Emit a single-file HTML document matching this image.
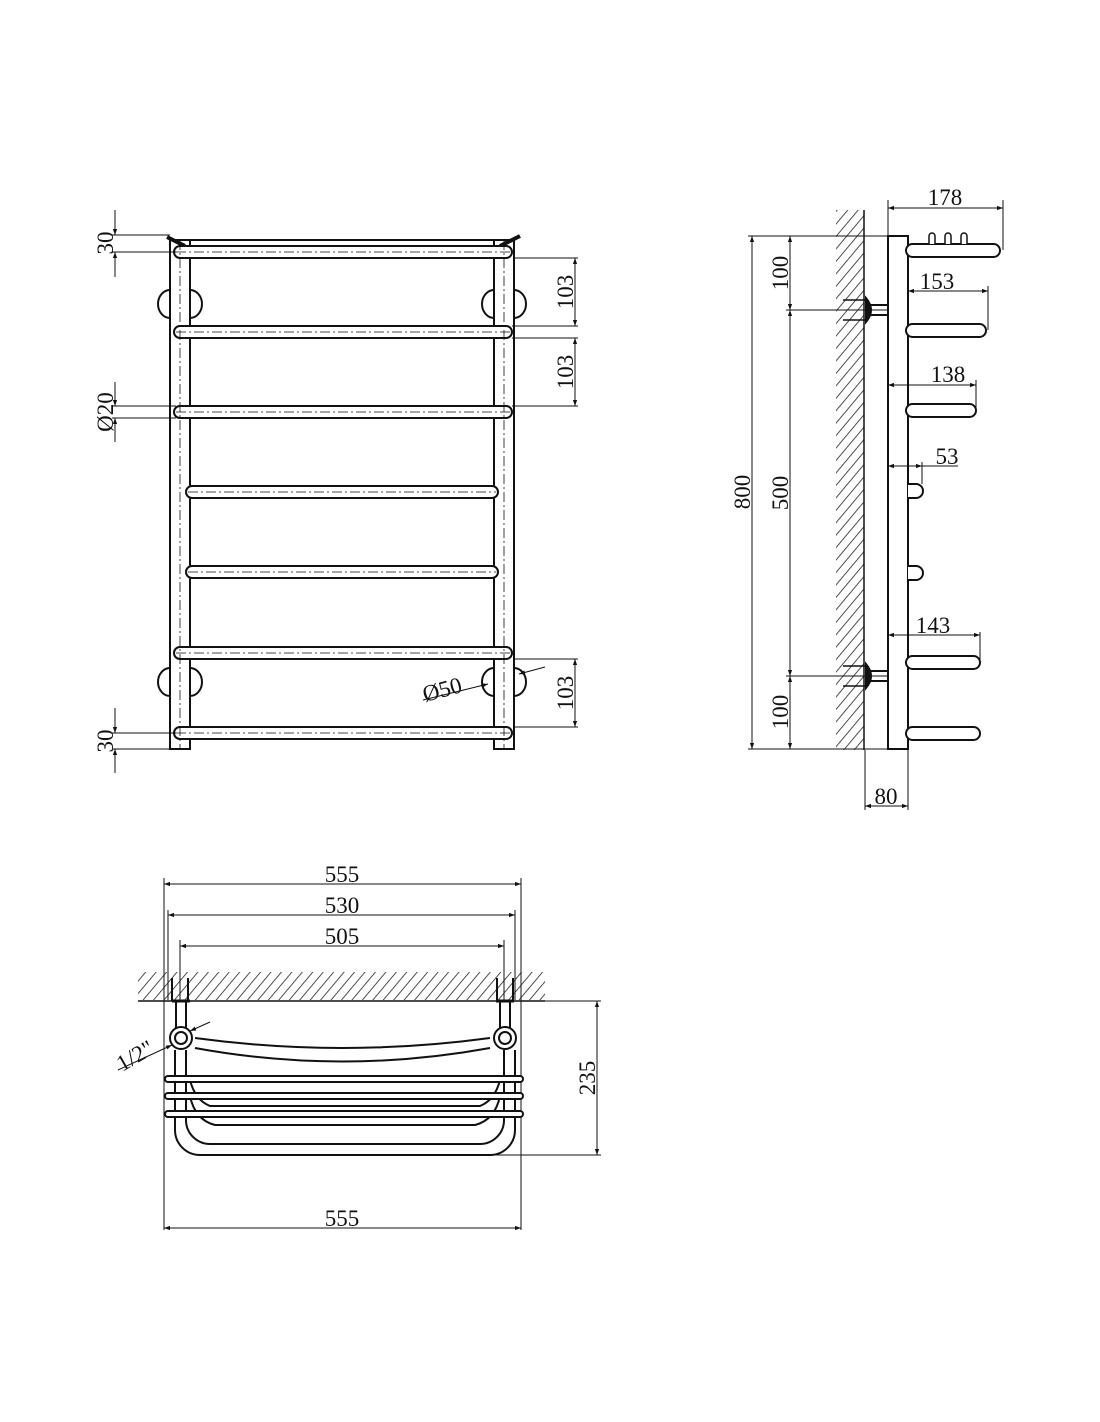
<!DOCTYPE html>
<html><head><meta charset="utf-8"><style>html,body{margin:0;padding:0;background:#fff}svg{display:block}text{font-family:"Liberation Serif",serif;font-size:23px;fill:#111}</style></head><body>
<svg width="1100" height="1422" viewBox="0 0 1100 1422" xmlns="http://www.w3.org/2000/svg">
<defs>
<pattern id="h" width="8" height="8" patternUnits="userSpaceOnUse" patternTransform="rotate(40)"><line x1="0" y1="0" x2="0" y2="8" stroke="#222" stroke-width="1.6"/></pattern>
<marker id="a" viewBox="0 0 10 10" refX="10" refY="5" markerWidth="11" markerHeight="6" orient="auto-start-reverse" markerUnits="userSpaceOnUse"><path d="M0,1.5L10,5L0,8.5z" fill="#111"/></marker>
</defs>
<g fill="none" stroke="#111" stroke-width="2">
<!-- FRONT VIEW -->
<rect x="170" y="240" width="20" height="509"/>
<rect x="494" y="240" width="20" height="509"/>
<line x1="170" y1="240" x2="514" y2="240"/>
<path d="M167,237 L185,246 M500,246 L520,236" stroke-width="4"/>
<g stroke-width="2">
<rect x="174" y="246" width="338" height="12" rx="6" fill="#fff"/>
<rect x="174" y="326" width="338" height="12" rx="6" fill="#fff"/>
<rect x="174" y="406" width="338" height="12" rx="6" fill="#fff"/>
<rect x="186" y="486" width="312" height="12" rx="6" fill="#fff"/>
<rect x="186" y="566" width="312" height="12" rx="6" fill="#fff"/>
<rect x="174" y="647" width="338" height="12" rx="6" fill="#fff"/>
<rect x="174" y="727" width="338" height="12" rx="6" fill="#fff"/>
</g>
<path d="M170,290 A12,14 0 0 0 170,318 M190,290 A12,14 0 0 1 190,318 M494,290 A12,14 0 0 0 494,318 M514,290 A12,14 0 0 1 514,318"/>
<path d="M170,668 A12,14 0 0 0 170,696 M190,668 A12,14 0 0 1 190,696 M494,668 A12,14 0 0 0 494,696 M514,668 A12,14 0 0 1 514,696"/>
<g stroke-width="0.8" stroke-dasharray="10,3,2,3">
<line x1="180" y1="240" x2="180" y2="749"/><line x1="504" y1="240" x2="504" y2="749"/>
<line x1="176" y1="252" x2="510" y2="252"/><line x1="176" y1="332" x2="510" y2="332"/><line x1="176" y1="412" x2="510" y2="412"/><line x1="188" y1="492" x2="496" y2="492"/><line x1="188" y1="572" x2="496" y2="572"/><line x1="176" y1="653" x2="510" y2="653"/><line x1="176" y1="733" x2="510" y2="733"/>
</g>
<g stroke-width="1">
<line x1="112" y1="235" x2="170" y2="235"/><line x1="112" y1="252" x2="176" y2="252"/>
<line x1="115" y1="210" x2="115" y2="235" marker-end="url(#a)"/><line x1="115" y1="277" x2="115" y2="252" marker-end="url(#a)"/>
<line x1="112" y1="406" x2="176" y2="406"/><line x1="112" y1="418" x2="176" y2="418"/>
<line x1="115" y1="382" x2="115" y2="406" marker-end="url(#a)"/><line x1="115" y1="442" x2="115" y2="418" marker-end="url(#a)"/>
<line x1="112" y1="733" x2="176" y2="733"/><line x1="112" y1="749" x2="170" y2="749"/>
<line x1="115" y1="708" x2="115" y2="733" marker-end="url(#a)"/><line x1="115" y1="773" x2="115" y2="749" marker-end="url(#a)"/>
<line x1="514" y1="258" x2="578" y2="258"/><line x1="512" y1="326" x2="578" y2="326"/><line x1="512" y1="338" x2="578" y2="338"/><line x1="512" y1="406" x2="578" y2="406"/>
<line x1="575" y1="258" x2="575" y2="326" marker-start="url(#a)" marker-end="url(#a)"/>
<line x1="575" y1="338" x2="575" y2="406" marker-start="url(#a)" marker-end="url(#a)"/>
<line x1="514" y1="659" x2="578" y2="659"/><line x1="514" y1="727" x2="578" y2="727"/>
<line x1="575" y1="659" x2="575" y2="727" marker-start="url(#a)" marker-end="url(#a)"/>
<line x1="423" y1="700" x2="488" y2="684" marker-end="url(#a)"/><line x1="545" y1="667" x2="519" y2="674" marker-end="url(#a)"/>
</g>
<!-- SIDE VIEW -->
<rect x="836" y="210" width="28" height="540" fill="url(#h)" stroke="none"/>
<line x1="864" y1="210" x2="864" y2="750" stroke-width="1.5"/>
<path d="M888,749 L888,236 L908,236 L908,749 Z"/>
<g fill="#fff">
<rect x="906" y="244" width="94" height="13" rx="6.5"/>
<rect x="906" y="324" width="80" height="13" rx="6.5"/>
<rect x="906" y="404" width="70" height="13" rx="6.5"/>
<rect x="906" y="656" width="74" height="13" rx="6.5"/>
<rect x="906" y="727" width="74" height="13" rx="6.5"/>
<path d="M908,484 L916,484 A6,6 0 0 1 916,498 L908,498"/>
<path d="M908,566 L916,566 A6,6 0 0 1 916,580 L908,580"/>
<path d="M929,244 L929,236 A3,3 0 0 1 935,236 L935,244 M945,244 L945,236 A3,3 0 0 1 951,236 L951,244 M961,244 L961,236 A3,3 0 0 1 967,236 L967,244" stroke-width="1.5"/>
</g>
<g stroke-width="2">
<path d="M866,298 Q876,310 866,322 Z M866,664 Q876,676 866,688 Z" fill="#111"/>
<rect x="868" y="305" width="20" height="10"/><rect x="868" y="671" width="20" height="10"/>
<path d="M843,300 L866,300 M843,320 L866,320 M843,666 L866,666 M843,686 L866,686" stroke-width="1.5"/>
</g>
<g stroke-width="1">
<line x1="888" y1="236" x2="888" y2="200"/><line x1="1003" y1="250" x2="1003" y2="200"/>
<line x1="888" y1="208" x2="1003" y2="208" marker-start="url(#a)" marker-end="url(#a)"/>
<line x1="988" y1="330" x2="988" y2="286"/><line x1="908" y1="291" x2="988" y2="291" marker-start="url(#a)" marker-end="url(#a)"/>
<line x1="976" y1="410" x2="976" y2="380"/><line x1="888" y1="385" x2="976" y2="385" marker-start="url(#a)" marker-end="url(#a)"/>
<line x1="922" y1="484" x2="922" y2="462"/><line x1="888" y1="466" x2="922" y2="466" marker-start="url(#a)" marker-end="url(#a)"/><line x1="922" y1="466" x2="958" y2="466"/>
<line x1="980" y1="662" x2="980" y2="632"/><line x1="888" y1="635" x2="980" y2="635" marker-start="url(#a)" marker-end="url(#a)"/>
<line x1="748" y1="236" x2="888" y2="236"/><line x1="748" y1="749" x2="888" y2="749"/>
<line x1="786" y1="310" x2="888" y2="310"/><line x1="786" y1="676" x2="888" y2="676"/>
<line x1="752" y1="236" x2="752" y2="749" marker-start="url(#a)" marker-end="url(#a)"/>
<line x1="790" y1="236" x2="790" y2="310" marker-start="url(#a)" marker-end="url(#a)"/>
<line x1="790" y1="310" x2="790" y2="676" marker-start="url(#a)" marker-end="url(#a)"/>
<line x1="790" y1="676" x2="790" y2="749" marker-start="url(#a)" marker-end="url(#a)"/>
<line x1="865" y1="750" x2="865" y2="810"/><line x1="908" y1="749" x2="908" y2="810"/>
<line x1="865" y1="806" x2="908" y2="806" marker-start="url(#a)" marker-end="url(#a)"/>
</g>
<!-- TOP VIEW -->
<rect x="138" y="972" width="407" height="28" fill="url(#h)" stroke="none"/>
<line x1="138" y1="1001" x2="545" y2="1001" stroke-width="1.5"/>
<g stroke-width="1">
<line x1="164" y1="878" x2="164" y2="1230"/><line x1="521" y1="878" x2="521" y2="1230"/>
<line x1="164" y1="884" x2="521" y2="884" marker-start="url(#a)" marker-end="url(#a)"/>
<line x1="168" y1="910" x2="168" y2="1000"/><line x1="515" y1="910" x2="515" y2="1000"/>
<line x1="168" y1="915" x2="515" y2="915" marker-start="url(#a)" marker-end="url(#a)"/>
<line x1="180" y1="940" x2="180" y2="1000"/><line x1="504" y1="940" x2="504" y2="1000"/>
<line x1="180" y1="946" x2="504" y2="946" marker-start="url(#a)" marker-end="url(#a)"/>
<line x1="164" y1="1228" x2="521" y2="1228" marker-start="url(#a)" marker-end="url(#a)"/>
<line x1="545" y1="1001" x2="601" y2="1001"/><line x1="490" y1="1155" x2="601" y2="1155"/>
<line x1="597" y1="1001" x2="597" y2="1155" marker-start="url(#a)" marker-end="url(#a)"/>
<line x1="118" y1="1070" x2="172" y2="1045" marker-end="url(#a)"/><line x1="210" y1="1022" x2="190" y2="1031" marker-end="url(#a)"/>
</g>
<path d="M176,1001 L176,1030 M186,1001 L186,1030 M500,1001 L500,1030 M510,1001 L510,1030 M172,978 L172,1001 M188,978 L188,1001 M497,978 L497,1001 M513,978 L513,1001"/>
<path d="M172,1001 L190,1001 M496,1001 L514,1001" stroke-width="3"/>
<path d="M195,1038 Q342,1058 490,1038 M195,1048 Q342,1075 490,1048"/>
<path d="M175,1050 L175,1130 A25,25 0 0 0 200,1155 L490,1155 A25,25 0 0 0 515,1130 L515,1050"/>
<path d="M186,1050 L186,1120 A24,24 0 0 0 210,1144 L480,1144 A24,24 0 0 0 504,1120 L504,1050"/>
<path d="M190,1096 Q195,1120 215,1125 L475,1125 Q495,1120 500,1096 M190,1080 Q195,1100 210,1106 L480,1106 Q495,1100 500,1080"/>
<rect x="165" y="1076" width="358" height="6" rx="3" fill="#fff"/>
<rect x="165" y="1093" width="358" height="6" rx="3" fill="#fff"/>
<rect x="165" y="1111" width="358" height="6" rx="3" fill="#fff"/>
<circle cx="181" cy="1038" r="11" fill="#fff"/><circle cx="181" cy="1038" r="6"/>
<circle cx="505" cy="1038" r="11" fill="#fff"/><circle cx="505" cy="1038" r="6"/>
</g>
<text transform="translate(113,243) rotate(-90)" text-anchor="middle">30</text>
<text transform="translate(113,412) rotate(-90)" text-anchor="middle">Ø20</text>
<text transform="translate(113,741) rotate(-90)" text-anchor="middle">30</text>
<text transform="translate(573,292) rotate(-90)" text-anchor="middle">103</text>
<text transform="translate(573,372) rotate(-90)" text-anchor="middle">103</text>
<text transform="translate(573,693) rotate(-90)" text-anchor="middle">103</text>
<text transform="translate(425,702) rotate(-15)">Ø50</text>
<text x="945" y="205" text-anchor="middle">178</text>
<text x="937" y="289" text-anchor="middle">153</text>
<text x="948" y="382" text-anchor="middle">138</text>
<text x="947" y="464" text-anchor="middle">53</text>
<text x="933" y="633" text-anchor="middle">143</text>
<text transform="translate(750,492) rotate(-90)" text-anchor="middle">800</text>
<text transform="translate(788,273) rotate(-90)" text-anchor="middle">100</text>
<text transform="translate(788,493) rotate(-90)" text-anchor="middle">500</text>
<text transform="translate(788,712) rotate(-90)" text-anchor="middle">100</text>
<text x="886" y="804" text-anchor="middle">80</text>
<text x="342" y="882" text-anchor="middle">555</text>
<text x="342" y="913" text-anchor="middle">530</text>
<text x="342" y="944" text-anchor="middle">505</text>
<text x="342" y="1226" text-anchor="middle">555</text>
<text transform="translate(595,1078) rotate(-90)" text-anchor="middle">235</text>
<text transform="translate(122,1072) rotate(-30)">1/2"</text>
</svg>
</body></html>
